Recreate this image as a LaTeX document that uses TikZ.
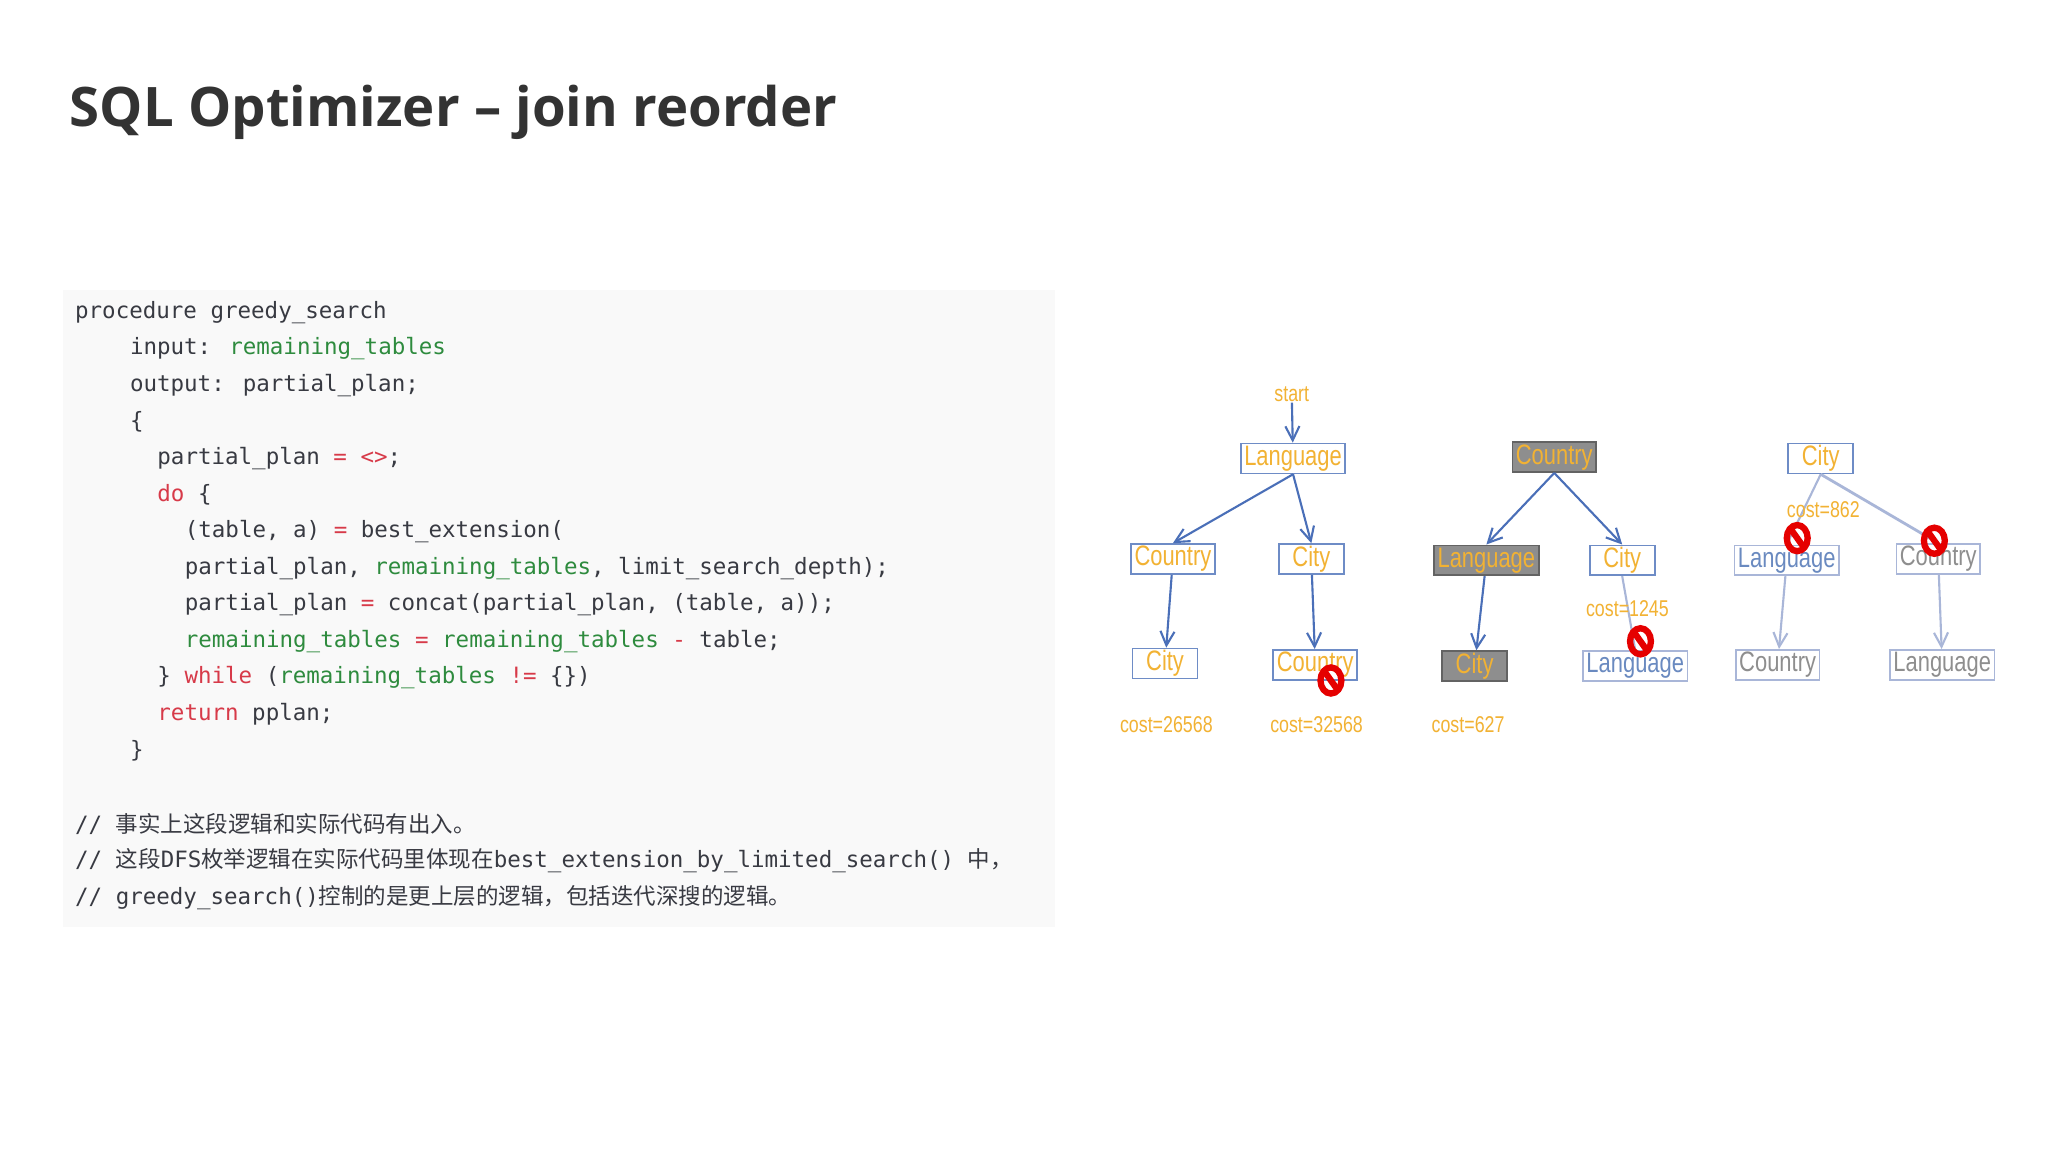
\documentclass[tikz,border=0pt]{standalone}
\usepackage{fontspec}
\setmainfont{Open Sans}
\newfontfamily\codef{DejaVu Sans Mono}
\newfontfamily\cjk{Noto Sans CJK SC}
\newfontfamily\narrowf{Liberation Sans}[FakeStretch=0.78]
\usetikzlibrary{arrows.meta, positioning, calc}
\definecolor{cdtext}{HTML}{383A42}
\definecolor{cdgreen}{HTML}{2E8B3E}
\definecolor{cdred}{HTML}{D73A49}
\definecolor{cdbg}{HTML}{F9F9F9}
\definecolor{trblue}{HTML}{4A6FB8}
\definecolor{trpale}{HTML}{A9B6D8}
\definecolor{tryellow}{HTML}{F2B233}
\definecolor{trgray}{HTML}{8E8E8E}
\definecolor{trtext}{HTML}{6A8AC0}
\newcommand{\kw}[1]{\textcolor{cdred}{#1}}
\newcommand{\vr}[1]{\textcolor{cdgreen}{#1}}
\newcommand{\nosign}[1]{%
  \draw[red!90!black, line width=1.8pt] (#1) ellipse (8 and 10);
  \draw[red!90!black, line width=1.8pt] ($(#1)+(-5,-7)$) -- ($(#1)+(5,7)$);}
\begin{document}
\begin{tikzpicture}[x=0.013061cm, y=-0.013061cm,
  every node/.style={inner sep=0pt},
  codeline/.style={anchor=west, font=\codef\fontsize{6.4}{8}\selectfont, text=cdtext},
  tbl/.style={draw=trblue!80, fill=white, line width=0.5pt, minimum height=8.5pt, inner xsep=1pt,
    font=\narrowf\fontsize{8}{9}\selectfont, text=tryellow},
  sel/.style={tbl, fill=trgray, draw=trgray!70!black},
  wl/.style={minimum width=26.7pt},
  wc/.style={minimum width=23pt},
  wy/.style={minimum width=18.5pt},
  cost/.style={font=\narrowf\fontsize{6.5}{8}\selectfont, text=tryellow},
  arr/.style={-{Straight Barb[length=4pt,width=4pt]}, trblue, line width=0.6pt},
  parr/.style={-{Straight Barb[length=4pt,width=4pt]}, trpale, line width=0.6pt},
]
\useasboundingbox[fill=white] (0,0) rectangle (1568,882);

% Title
\node[anchor=west, font=\bfseries\fontsize{15.5}{18}\selectfont, text=black!80] (title) at (53,86) {SQL Optimizer – join reorder};

% Code block
\fill[cdbg] (48,222) rectangle (808,710);
\node[codeline] (c1) at (57,239) {procedure greedy\_search};
\node[codeline] (c2) at (99,267) {input: \vr{remaining\_tables}};
\node[codeline] (c3) at (99,295) {output: partial\_plan;};
\node[codeline] (c4) at (99,323) {\{};
\node[codeline] (c5) at (120,351) {partial\_plan \kw{= <>};};
\node[codeline] (c6) at (120,379) {\kw{do} \{};
\node[codeline] (c7) at (141,407) {(table, a) \kw{=} best\_extension(};
\node[codeline] (c8) at (141,435) {partial\_plan, \vr{remaining\_tables}, limit\_search\_depth);};
\node[codeline] (c9) at (141,463) {partial\_plan \kw{=} concat(partial\_plan, (table, a));};
\node[codeline] (c10) at (141,491) {\vr{remaining\_tables} \kw{=} \vr{remaining\_tables} \kw{-} table;};
\node[codeline] (c11) at (120,519) {\} \kw{while} (\vr{remaining\_tables} \kw{!=} \{\})};
\node[codeline] (c12) at (120,547) {\kw{return} pplan;};
\node[codeline] (c13) at (99,575) {\}};
\node[codeline] (m1) at (57,631) {// {\cjk 事实上这段逻辑和实际代码有出入。}};
\node[codeline] (m2) at (57,659) {// {\cjk 这段}DFS{\cjk 枚举逻辑在实际代码里体现在}best\_extension\_by\_limited\_search() {\cjk 中，}};
\node[codeline] (m3) at (57,687) {// greedy\_search(){\cjk 控制的是更上层的逻辑，包括迭代深搜的逻辑。}};

% Tree 1
\node[cost] (start) at (989,302) {start};
\node[tbl, wl] (l1) at (990,351) {Language};
\node[tbl, wc] (l1co) at (898,428) {Country};
\node[tbl, wy] (l1ci) at (1004,428) {City};
\node[tbl, wy] (l1cici) at (892,508) {City};
\node[tbl, wc] (l1cico) at (1007,509) {Country};
\node[cost] (k1) at (893,555) {cost=26568};
\node[cost] (k2) at (1008,555) {cost=32568};
\draw[arr] (start) -- (l1);
\draw[arr] (l1.south) -- (l1co.north);
\draw[arr] (l1.south) -- (l1ci.north);
\draw[arr] (l1co) -- (l1cici);
\draw[arr] (l1ci) -- (l1cico);
\nosign{1019,521}

% Tree 2
\node[sel, wc] (r2) at (1190,350) {Country};
\node[sel, wl] (r2la) at (1138,429) {Language};
\node[tbl, wy] (r2ci) at (1242,429) {City};
\node[sel, wy] (r2laci) at (1129,510) {City};
\node[tbl, wl, draw=trpale, text=trtext] (r2cila) at (1252,510) {Language};
\node[cost] (k3) at (1124,555) {cost=627};
\draw[arr] (r2.south) -- (r2la.north);
\draw[arr] (r2.south) -- (r2ci.north);
\draw[arr] (r2la) -- (r2laci);
\draw[trpale, line width=0.6pt] (r2ci.south) -- (r2cila.north);
\node[cost] (k4) at (1246,466) {cost=1245};
\nosign{1256,491}

% Tree 3
\node[tbl, wy] (r3) at (1394,351) {City};
\node[tbl, wl, draw=trpale, text=trtext] (r3la) at (1368,429) {Language};
\node[tbl, wc, draw=trpale, text=trgray] (r3co) at (1484,428) {Country};
\node[tbl, wc, draw=trpale, text=trgray] (r3laco) at (1361,509) {Country};
\node[tbl, wl, draw=trpale, text=trgray] (r3cola) at (1487,509) {Language};
\draw[trpale, line width=0.6pt] (r3.south) -- (r3la.north);
\draw[trpale, line width=0.8pt] (r3.south) -- (r3co.north);
\draw[parr] (r3la) -- (r3laco);
\draw[parr] (r3co) -- (r3cola);
\node[cost] (k5) at (1396,390) {cost=862};
\nosign{1376,412}
\nosign{1481,414}
\end{tikzpicture}
\end{document}
